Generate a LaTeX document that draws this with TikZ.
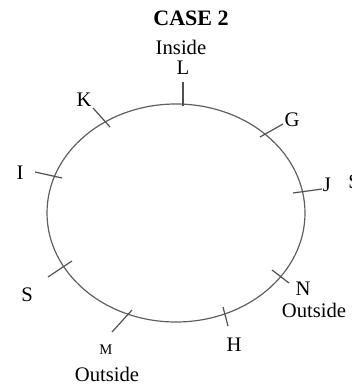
\documentclass[tikz,border=0pt]{standalone}
\usepackage{fontspec}
\setmainfont{Liberation Serif}
\usepackage{tikz}
\definecolor{rimgray}{RGB}{95,95,95}

\begin{document}
\begin{tikzpicture}[
      x=0.75pt, y=-0.75pt,
      lbl/.style={font=\fontsize{15.5}{18}\selectfont, inner sep=0pt},
      small/.style={font=\fontsize{11}{13}\selectfont, inner sep=0pt},
      rim/.style={draw=rimgray, line width=0.9pt},
      tick/.style={draw=rimgray!85!black, line width=0.9pt},
      ]
    \useasboundingbox (0,0) rectangle (351,389);

    % ring
    \coordinate (ctr) at (176,213);
    \draw[rim] (ctr) ellipse [x radius=96.75pt, y radius=81.75pt];

    % headings
    \node[lbl, font=\fontsize{16.5}{19}\bfseries] (title) at (191,18) {CASE 2};
    \node[lbl] (inside) at (181,47) {Inside};

    % seat labels
    \node[lbl] (L) at (183,68) {L};
    \node[lbl] (G) at (292,120) {G};
    \node[lbl] (J) at (327,185) {J};
    \node[lbl] (Scut) at (354,182) {S};
    \node[lbl] (N) at (303,289) {N};
    \node[lbl] (outN) at (314,310) {Outside};
    \node[lbl] (H) at (234,345) {H};
    \node[small] (M) at (106,350) {M};
    \node[lbl] (outM) at (107,374) {Outside};
    \node[lbl] (S) at (27,295) {S};
    \node[lbl] (I) at (20,173) {I};
    \node[lbl] (K) at (84,100) {K};

    % tick ends
    \coordinate (tL1) at (183,82);  \coordinate (tL2) at (183,106);
    \coordinate (tG1) at (260,137); \coordinate (tG2) at (283,124);
    \coordinate (tJ1) at (293,193); \coordinate (tJ2) at (322,189);
    \coordinate (tN1) at (272,270); \coordinate (tN2) at (289,283);
    \coordinate (tH1) at (223,307); \coordinate (tH2) at (228,326);
    \coordinate (tM1) at (132,310); \coordinate (tM2) at (112,332);
    \coordinate (tS1) at (72,261);  \coordinate (tS2) at (48,277);
    \coordinate (tI1) at (35,172);  \coordinate (tI2) at (62,178);
    \coordinate (tK1) at (93,108);  \coordinate (tK2) at (110,127);

    \foreach \s in {L,G,J,N,H,M,S,I,K}
      \draw[tick] (t\s1) -- (t\s2);
  \end{tikzpicture}
\end{document}
